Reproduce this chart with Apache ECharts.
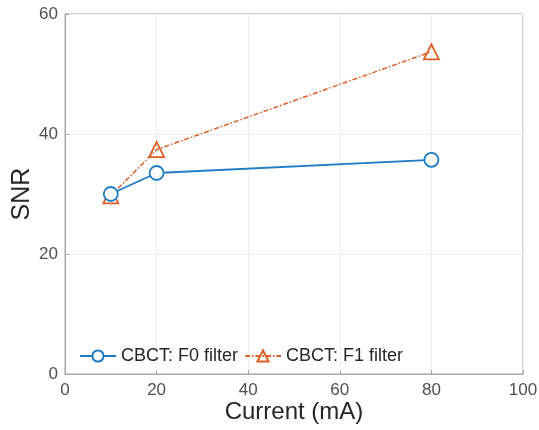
<!DOCTYPE html>
<html>
<head>
<meta charset="utf-8">
<script src="https://cdn.jsdelivr.net/npm/echarts@6/dist/echarts.min.js"></script>
<style>
    html, body { margin: 0; padding: 0; background: #fff; }
    #chart { width: 539px; height: 430px; }
</style>
</head>
<body>
<div id="chart"></div>
<script>
// data
const currents = [10, 20, 80];
const snrF0 = [30.0, 33.5, 35.7];
const snrF1 = [29.7, 37.4, 53.7];
const seriesNames = ['CBCT: F0 filter', 'CBCT: F1 filter'];

const font = 'Liberation Sans, Arial, Helvetica, sans-serif';
const blue = '#1f7cc4';
const orange = '#dd5e26';

let myChart = echarts.init(document.getElementById('chart'));

function pairs(xs, ys) {
    return xs.map((x, i) => [x, ys[i]]);
}

let option = {
    animation: false,
    backgroundColor: '#fff',
    textStyle: { fontFamily: font },
    legend: {
        left: 74,
        top: 342,
        itemGap: 6,
        itemWidth: 36,
        itemHeight: 14,
        textStyle: { fontSize: 18, color: '#262626', fontFamily: font },
        data: seriesNames
    },
    grid: {
        left: 65,
        right: 16,
        top: 14,
        bottom: 56,
        outerBoundsMode: 'none',
        containLabel: false,
        show: true,
        borderColor: '#a6a6a6',
        borderWidth: 1
    },
    xAxis: {
        type: 'value',
        min: 0,
        max: 100,
        interval: 20,
        name: 'Current (mA)',
        nameLocation: 'middle',
        nameGap: 26,
        nameMoveOverlap: false,
        nameTextStyle: { fontSize: 24, color: '#262626', fontFamily: font, verticalAlign: 'top' },
        axisLine: { show: true, lineStyle: { color: '#a6a6a6' } },
        axisTick: { show: true, inside: true, length: 4, lineStyle: { color: '#a6a6a6' } },
        axisLabel: { fontSize: 17, color: '#505050', margin: 8, fontFamily: font },
        splitLine: { show: true, lineStyle: { color: '#eeeeee' } }
    },
    yAxis: {
        type: 'value',
        min: 0,
        max: 60,
        interval: 20,
        name: 'SNR',
        nameLocation: 'middle',
        nameGap: 30,
        nameMoveOverlap: false,
        nameTextStyle: { fontSize: 25, color: '#262626', fontFamily: font },
        axisLine: { show: true, lineStyle: { color: '#a6a6a6' } },
        axisTick: { show: true, inside: true, length: 4, lineStyle: { color: '#a6a6a6' } },
        axisLabel: { fontSize: 17, color: '#505050', margin: 7, fontFamily: font },
        splitLine: { show: true, lineStyle: { color: '#eeeeee' } }
    },
    series: [
        {
            name: seriesNames[0],
            type: 'line',
            data: pairs(currents, snrF0),
            symbol: 'circle',
            symbolSize: 14,
            showAllSymbol: true,
            itemStyle: { color: '#fff', borderColor: blue, borderWidth: 1.8 },
            lineStyle: { color: blue, width: 1.8 },
            z: 3
        },
        {
            name: seriesNames[1],
            type: 'line',
            data: pairs(currents, snrF1),
            symbol: 'triangle',
            symbolSize: 15,
            showAllSymbol: true,
            itemStyle: { color: 'rgba(255,255,255,0)', borderColor: orange, borderWidth: 1.8 },
            lineStyle: { color: orange, width: 1.5, type: [5, 2, 1.5, 2] },
            z: 2
        }
    ]
};
myChart.setOption(option);
</script>
</body>
</html>
